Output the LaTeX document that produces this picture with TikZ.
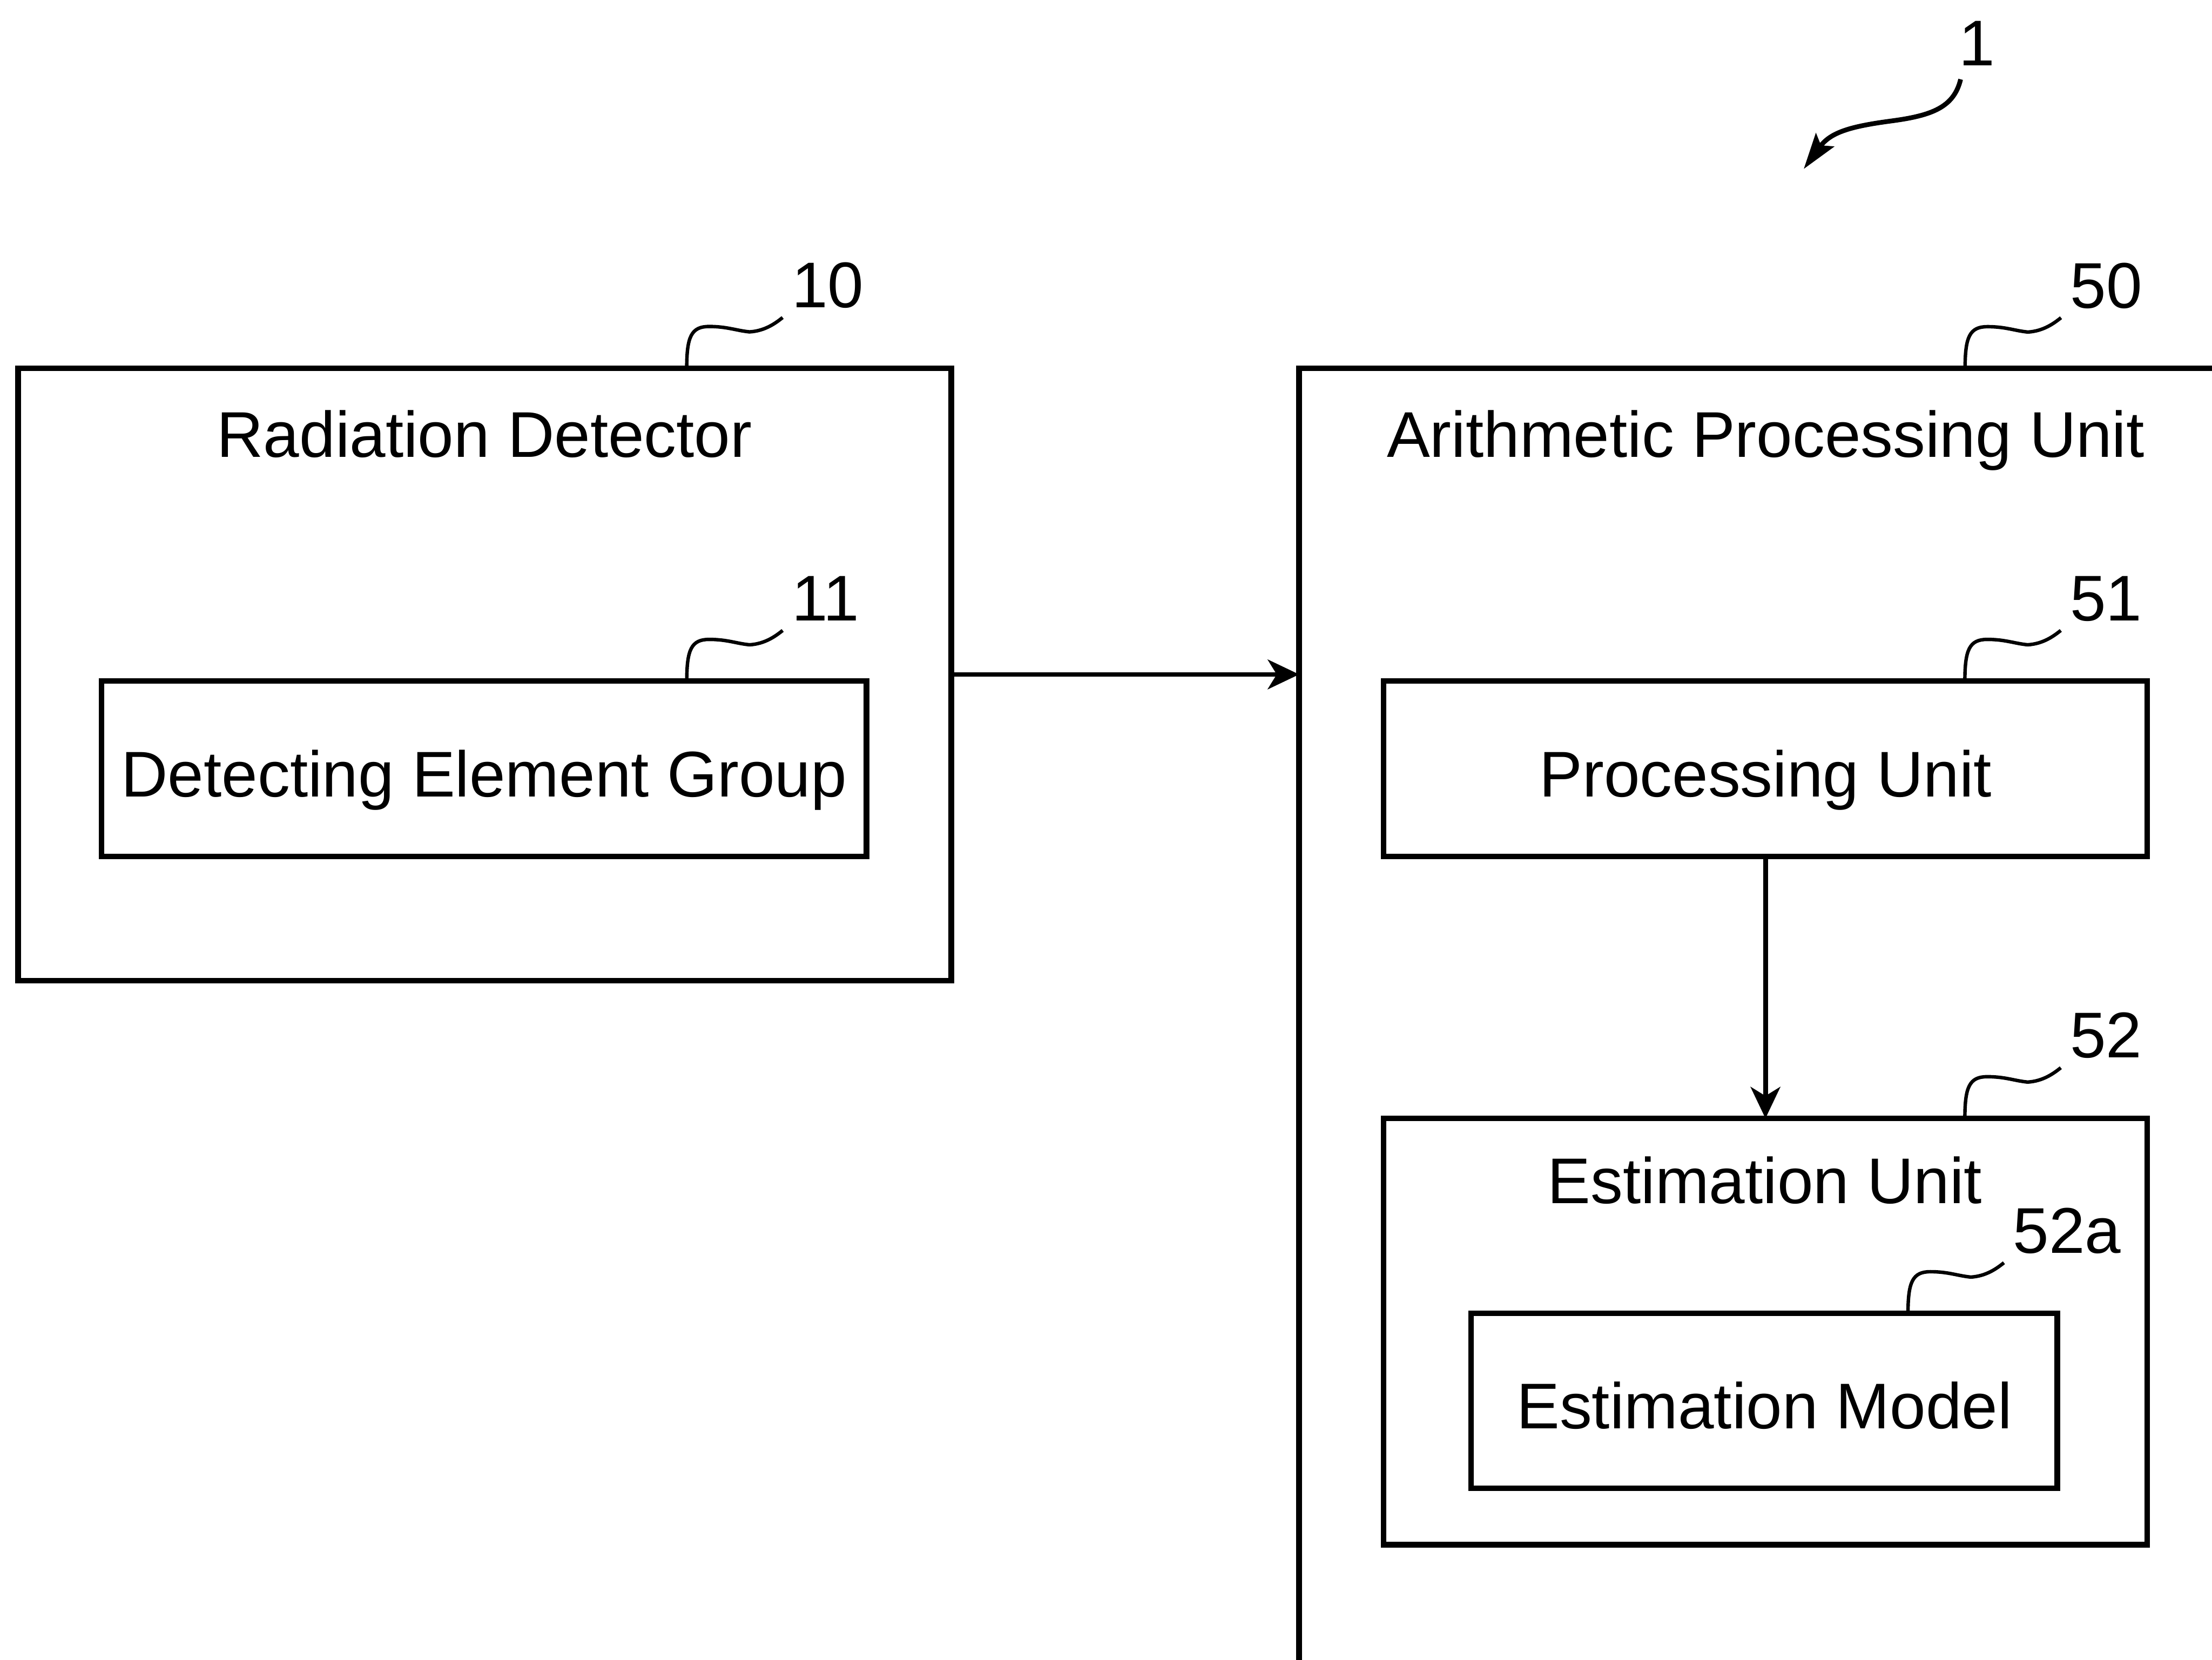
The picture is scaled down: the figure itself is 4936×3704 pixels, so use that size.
\documentclass[tikz,border=0pt]{standalone}
\usepackage{fontspec}
\setmainfont{Liberation Sans}
\usetikzlibrary{arrows.meta,calc}

% wavy leader line from a box edge up to its reference numeral
% #1 start point on the box edge, #2 name of the leader end, #3 numeral
\newcommand\refleader[3]{%
  \draw[leader] #1 .. controls +(0,-70) and +(-40,0) .. ++(50,-93)
     .. controls +(40,0) and +(-30,-3) .. ++(90,12)
     .. controls +(35,-2) and +(-15,12) .. ++(74,-32) coordinate (#2);
  \node[refnum] (#2-t) at ([xshift=0.2cm,yshift=0.22cm]#2) {#3};
}

\begin{document}
\begin{tikzpicture}[x=0.01cm, y=-0.01cm,
  box/.style={draw, line width=3.6pt, inner sep=0pt, outer sep=0pt, rectangle},
  txt/.style={font=\fontsize{41}{49}\selectfont, inner sep=0pt, anchor=base},
  refnum/.style={font=\fontsize{41}{49}\selectfont, inner sep=0pt, anchor=base west},
  leader/.style={line width=2.2pt},
  flow/.style={line width=3pt, -{Stealth[length=7mm,width=6.6mm,inset=2mm]}},
  pointer/.style={line width=3pt, -{Stealth[length=8mm,width=5mm,inset=1.5mm]}},
]
\useasboundingbox (0,0) rectangle (4936,3704);
\clip (0,0) rectangle (4936,3704);

% radiation detector
\node[box, minimum width=20.81cm, minimum height=13.66cm] (box10) at (1081.5,1505) {};
\node[box, minimum width=17.06cm, minimum height=3.91cm] (box11) at (1080,1715.5) {};
\node[txt] (t10) at (1081,1020) {Radiation Detector};
\node[txt] (t11) at (1080,1778) {Detecting Element Group};

% arithmetic processing unit (runs past the sheet edge)
\node[box, minimum width=24cm, minimum height=32cm, anchor=north west] (box50) at (2899,822) {};
\node[box, minimum width=17.03cm, minimum height=3.91cm] (box51) at (3939.5,1715.5) {};
\node[box, minimum width=17.03cm, minimum height=9.51cm] (box52) at (3939.5,2971.5) {};
\node[box, minimum width=13.07cm, minimum height=3.90cm] (box52a) at (3936.5,3126) {};
\node[txt] (t50) at (3940,1020) {Arithmetic Processing Unit};
\node[txt] (t51) at (3940,1778) {Processing Unit};
\node[txt] (t52) at (3938,2686) {Estimation Unit};
\node[txt] (t52a) at (3937,3188) {Estimation Model};

% signal flow
\draw[flow] (box10.east) -- (box10.east -| box50.west);
\draw[flow] (box51.south) -- (box52.north);

% reference numerals
\refleader{($(box10.north west)+(1492,0)$)}{r10}{10}
\refleader{($(box11.north west)+(1306,0)$)}{r11}{11}
\refleader{($(box50.north west)+(1486,0)$)}{r50}{50}
\refleader{($(box51.north west)+(1297,0)$)}{r51}{51}
\refleader{($(box52.north west)+(1297,0)$)}{r52}{52}
\refleader{($(box52a.north west)+(975,0)$)}{r52a}{52a}

% overall system numeral
\node[txt] (n1) at (4412,146) {1};
\coordinate (p1s) at (4375,177);
\coordinate (p1e) at (4025,377);
\draw[pointer] (p1s) .. controls (4360,240) and (4310,258) .. (4220,270)
   .. controls (4130,282) and (4085,295) .. (p1e);
\end{tikzpicture}
\end{document}
